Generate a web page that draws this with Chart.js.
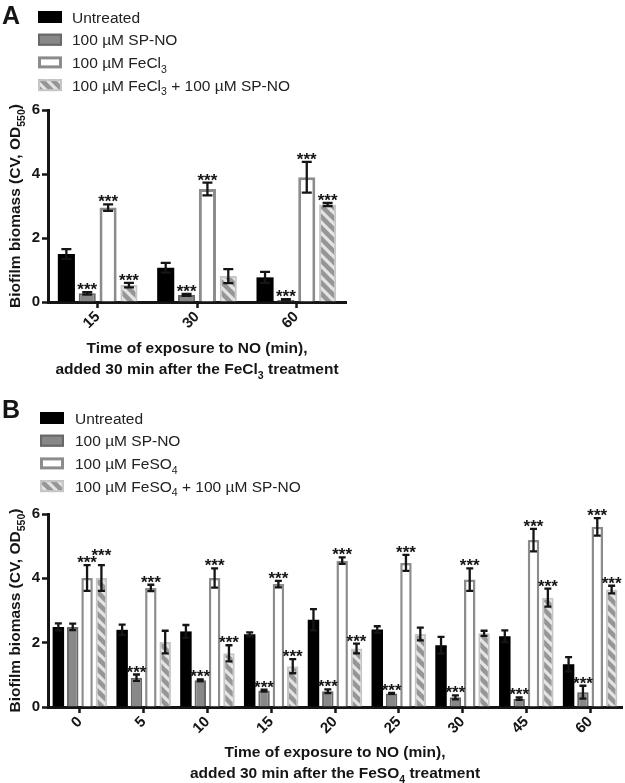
<!DOCTYPE html>
<html>
<head>
<meta charset="utf-8">
<script src="https://cdn.jsdelivr.net/npm/chart.js@4/dist/chart.umd.min.js"></script>
<style>
  body { margin: 0; background: #fff; }
  canvas { display: block; }
</style>
</head>
<body>
<canvas id="chartA" width="625" height="390"></canvas>
<canvas id="chartB" width="625" height="393"></canvas>
<script>
// ---- panel A data (FeCl3) ----
const timesA = ['15', '30', '60'];
const untreatedA = [1.5, 1.07, 0.77];
const untreatedErrA = [0.15, 0.15, 0.17];
const spnoA = [0.27, 0.22, 0.07];
const spnoErrA = [0.04, 0.03, 0.02];
const fecl3A = [2.95, 3.53, 3.9];
const fecl3ErrA = [0.1, 0.2, 0.48];
const comboA = [0.53, 0.81, 3.05];
const comboErrA = [0.07, 0.22, 0.05];
const starsSpnoA = [1, 1, 1];
const starsFecl3A = [1, 1, 1];
const starsComboA = [1, 0, 1];

// ---- panel B data (FeSO4) ----
const timesB = ['0', '5', '10', '15', '20', '25', '30', '45', '60'];
const untreatedB = [2.49, 2.4, 2.35, 2.26, 2.71, 2.41, 1.92, 2.2, 1.33];
const untreatedErrB = [0.11, 0.16, 0.2, 0.06, 0.33, 0.1, 0.26, 0.18, 0.22];
const spnoB = [2.49, 0.91, 0.83, 0.51, 0.49, 0.42, 0.3, 0.26, 0.46];
const spnoErrB = [0.1, 0.1, 0.03, 0.03, 0.06, 0.02, 0.06, 0.04, 0.2];
const feso4B = [4.01, 3.7, 4.01, 3.82, 4.55, 4.48, 3.96, 5.19, 5.6];
const feso4ErrB = [0.4, 0.1, 0.3, 0.1, 0.1, 0.25, 0.35, 0.35, 0.27];
const comboB = [4.01, 2.02, 1.67, 1.27, 1.82, 2.27, 2.29, 3.4, 3.65];
const comboErrB = [0.4, 0.35, 0.25, 0.22, 0.15, 0.2, 0.08, 0.28, 0.12];
const starsSpnoB = [0, 1, 1, 1, 1, 1, 1, 1, 1];
const starsFeso4B = [1, 1, 1, 1, 1, 1, 1, 1, 1];
const starsComboB = [1, 0, 1, 1, 1, 0, 0, 1, 1];
const noStars = [0, 0, 0, 0, 0, 0, 0, 0, 0];

const FONT = '"Liberation Sans", Arial, sans-serif';
const INK = '#151515';

// diagonal hatch used for the combined treatment
function makeHatch() {
  const c = document.createElement('canvas');
  c.width = 11; c.height = 11;
  const g = c.getContext('2d');
  g.fillStyle = '#969696';
  g.fillRect(0, 0, 11, 11);
  g.strokeStyle = '#e4e4e4';
  g.lineWidth = 3.2;
  for (let k = -1; k <= 1; k++) {
    g.beginPath();
    g.moveTo(k * 11 - 1, -1);
    g.lineTo(k * 11 + 12, 12);
    g.stroke();
  }
  return g.createPattern(c, 'repeat');
}
const hatch = makeHatch();

const styles = [
  { bg: '#000', border: '#000', bw: 0 },
  { bg: '#888888', border: '#686868', bw: 2 },
  { bg: '#fff', border: '#8c8c8c', bw: 3 },
  { bg: hatch, border: '#c6c6c6', bw: 2 }
];

// text with subscript pieces: parts = [[text, isSub], ...]
function richWidth(ctx, parts, size, weight) {
  let w = 0;
  parts.forEach(([t, sub]) => {
    ctx.font = weight + ' ' + (sub ? size * 0.68 : size) + 'px ' + FONT;
    w += ctx.measureText(t).width;
  });
  return w;
}
function drawRich(ctx, parts, x, y, size, weight, align) {
  let w = richWidth(ctx, parts, size, weight);
  let cx = align === 'center' ? x - w / 2 : x;
  ctx.textAlign = 'left';
  ctx.textBaseline = 'alphabetic';
  parts.forEach(([t, sub]) => {
    ctx.font = weight + ' ' + (sub ? size * 0.68 : size) + 'px ' + FONT;
    ctx.fillText(t, cx, sub ? y + size * 0.3 : y);
    cx += ctx.measureText(t).width;
  });
}

const errorBars = {
  id: 'errorBars',
  afterDatasetsDraw(chart, args, opts) {
    const ctx = chart.ctx, y = chart.scales.y;
    const placed = []; // star labels already drawn, to nudge overlaps
    chart.data.datasets.forEach((ds, i) => {
      chart.getDatasetMeta(i).data.forEach((bar, j) => {
        const v = ds.data[j], e = ds.errors[j];
        const top = y.getPixelForValue(v + e);
        const bot = y.getPixelForValue(Math.max(0, v - e));
        const cap = opts.cap;
        ctx.save();
        ctx.strokeStyle = INK;
        ctx.lineWidth = 2.3;
        ctx.beginPath();
        ctx.moveTo(bar.x, top); ctx.lineTo(bar.x, bot);
        ctx.moveTo(bar.x - cap, top); ctx.lineTo(bar.x + cap, top);
        ctx.moveTo(bar.x - cap, bot); ctx.lineTo(bar.x + cap, bot);
        ctx.stroke();
        if (ds.stars[j]) {
          ctx.fillStyle = INK;
          ctx.font = 'bold 17px ' + FONT;
          ctx.textAlign = 'center';
          ctx.textBaseline = 'alphabetic';
          let sy = top + 3;
          const w = ctx.measureText('***').width;
          placed.forEach(p => {
            if (Math.abs(p.x - bar.x) < w && Math.abs(p.y - sy) < 6) sy = p.y - 7;
          });
          placed.push({ x: bar.x, y: sy });
          ctx.fillText('***', bar.x, sy);
        }
        ctx.restore();
      });
    });
  }
};

const decor = {
  id: 'decor',
  afterDraw(chart, args, o) {
    const ctx = chart.ctx, area = chart.chartArea;
    ctx.save();
    ctx.fillStyle = INK;
    // panel letter
    ctx.font = 'bold 25px ' + FONT;
    ctx.textAlign = 'left';
    ctx.textBaseline = 'alphabetic';
    ctx.fillText(o.letter, 2, o.letterY);
    // legend
    o.legend.forEach((parts, i) => {
      const cy = o.legendY + i * 22.7;
      const s = styles[i];
      ctx.fillStyle = s.bg;
      ctx.fillRect(o.boxX, cy - 6, 24, 12);
      if (s.bw) {
        ctx.strokeStyle = s.border;
        ctx.lineWidth = s.bw;
        ctx.strokeRect(o.boxX + s.bw / 2, cy - 6 + s.bw / 2, 24 - s.bw, 12 - s.bw);
      }
      ctx.fillStyle = '#222';
      drawRich(ctx, parts, o.textX, cy + 5.5, 15.5, 'normal', 'left');
    });
    // y axis title
    ctx.fillStyle = INK;
    ctx.save();
    ctx.translate(20, (area.top + area.bottom) / 2);
    ctx.rotate(-Math.PI / 2);
    drawRich(ctx, [['Biofilm biomass (CV, OD', false], ['550', true], [')', false]], 0, 0, 15.5, 'bold', 'center');
    ctx.restore();
    // x axis title
    const cx = (area.left + area.right) / 2;
    drawRich(ctx, [['Time of exposure to NO (min),', false]], cx, o.xTitleY, 15.5, 'bold', 'center');
    drawRich(ctx, o.xTitle2, cx, o.xTitleY + 21, 15.5, 'bold', 'center');
    ctx.restore();
  }
};

function makeChart(id, labels, series, errs, stars, names, pad, xHeight, barOpts, decorOpts) {
  const datasets = series.map((d, i) => ({
    label: names[i],
    data: d,
    errors: errs[i],
    stars: stars[i],
    backgroundColor: styles[i].bg,
    borderColor: styles[i].border,
    borderWidth: i === 2 ? barOpts.openBorder : styles[i].bw,
    categoryPercentage: barOpts.cat,
    barPercentage: barOpts.bar
  }));
  return new Chart(document.getElementById(id), {
    type: 'bar',
    data: { labels: labels, datasets: datasets },
    options: {
      responsive: false,
      animation: false,
      layout: { padding: pad },
      plugins: {
        legend: { display: false },
        tooltip: { enabled: false },
        errorBars: { cap: barOpts.capW },
        decor: decorOpts
      },
      scales: {
        x: {
          afterFit: s => { s.height = xHeight; },
          grid: { display: true, offset: false, drawOnChartArea: false, tickLength: 6, tickWidth: 2.5, tickColor: INK },
          border: { display: true, color: INK, width: 3 },
          ticks: { color: INK, font: { family: FONT, size: 15, weight: 'bold' }, minRotation: 45, maxRotation: 45, padding: 0 }
        },
        y: {
          min: 0, max: 6,
          afterFit: s => { s.width = 47; },
          grid: { display: true, drawOnChartArea: false, tickLength: 6, tickWidth: 2.5, tickColor: INK },
          border: { display: true, color: INK, width: 3 },
          ticks: { stepSize: 2, color: INK, font: { family: FONT, size: 15, weight: 'bold' }, padding: 2 }
        }
      }
    },
    plugins: [errorBars, decor]
  });
}

makeChart('chartA', timesA,
  [untreatedA, spnoA, fecl3A, comboA],
  [untreatedErrA, spnoErrA, fecl3ErrA, comboErrA],
  [[0, 0, 0], starsSpnoA, starsFecl3A, starsComboA],
  ['Untreated', '100 µM SP-NO', '100 µM FeCl3', '100 µM FeCl3 + 100 µM SP-NO'],
  { top: 110, right: 279, bottom: 0, left: 1 }, 88,
  { cat: 0.84, bar: 0.82, capW: 5, openBorder: 3 },
  {
    letter: 'A', letterY: 24, legendY: 17, boxX: 38, textX: 72, xTitleY: 353,
    xTitle2: [['added 30 min after the FeCl', false], ['3', true], [' treatment', false]],
    legend: [
      [['Untreated', false]],
      [['100 µM SP-NO', false]],
      [['100 µM FeCl', false], ['3', true]],
      [['100 µM FeCl', false], ['3', true], [' + 100 µM SP-NO', false]]
    ]
  });

makeChart('chartB', timesB,
  [untreatedB, spnoB, feso4B, comboB],
  [untreatedErrB, spnoErrB, feso4ErrB, comboErrB],
  [noStars, starsSpnoB, starsFeso4B, starsComboB],
  ['Untreated', '100 µM SP-NO', '100 µM FeSO4', '100 µM FeSO4 + 100 µM SP-NO'],
  { top: 124, right: 3, bottom: 0, left: 1 }, 76,
  { cat: 0.9, bar: 0.8, capW: 3.5, openBorder: 2.5 },
  {
    letter: 'B', letterY: 28, legendY: 28, boxX: 40, textX: 75, xTitleY: 367,
    xTitle2: [['added 30 min after the FeSO', false], ['4', true], [' treatment', false]],
    legend: [
      [['Untreated', false]],
      [['100 µM SP-NO', false]],
      [['100 µM FeSO', false], ['4', true]],
      [['100 µM FeSO', false], ['4', true], [' + 100 µM SP-NO', false]]
    ]
  });
</script>
</body>
</html>
